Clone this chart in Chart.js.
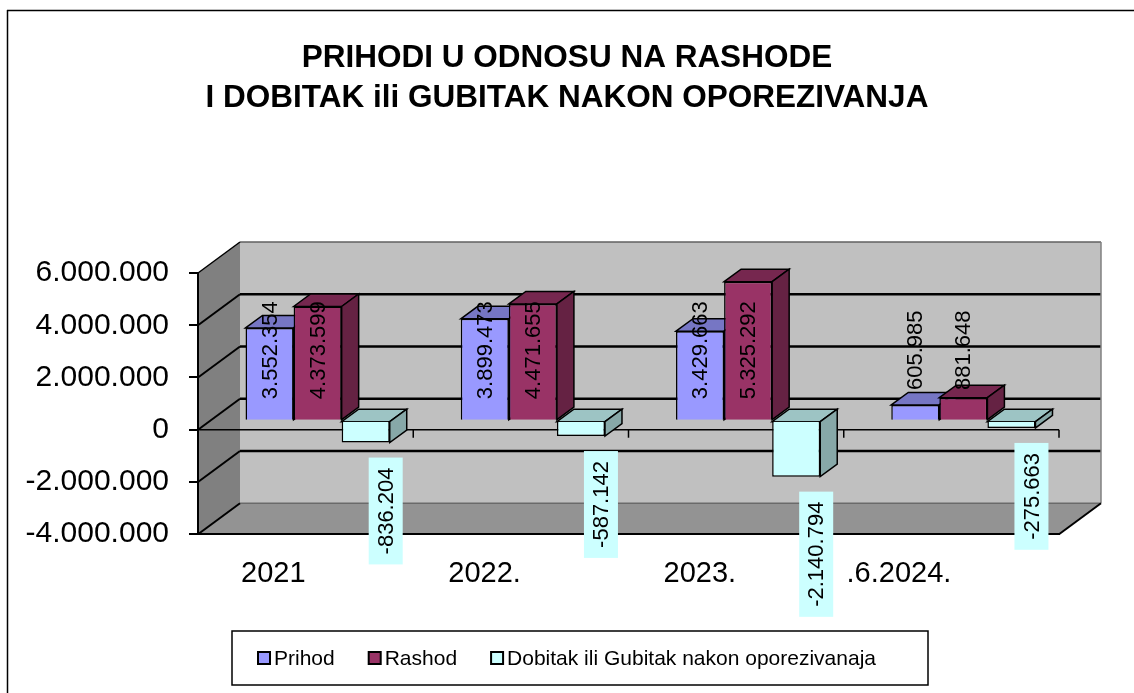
<!DOCTYPE html>
<html>
<head>
<meta charset="utf-8">
<script src="https://cdn.jsdelivr.net/npm/chart.js@4.4.1/dist/chart.umd.min.js"></script>
<style>
  html, body { margin: 0; padding: 0; background: #fff; }
  canvas { display: block; }
</style>
</head>
<body>
<canvas id="chart" width="1134" height="693"></canvas>
<script>
// podaci
const categories = ['2021', '2022.', '2023.', '.6.2024.'];
const prihod = [3552354, 3899473, 3429663, 605985];
const rashod = [4373599, 4471655, 5325292, 881648];
const dobitak = [-836204, -587142, -2140794, -275663];
const seriesNames = ['Prihod', 'Rashod', 'Dobitak ili Gubitak nakon oporezivanaja'];
const seriesColors = ['#9999ff', '#993366', '#ccffff'];
const titleLines = ['PRIHODI U ODNOSU NA RASHODE', 'I DOBITAK ili GUBITAK NAKON OPOREZIVANJA'];
const yMin = -4000000;
const yMax = 6000000;
const yStep = 2000000;

const FONT = "'Liberation Sans', Arial, sans-serif";

// 3D pomaci (zid iza, ravnina stupaca, dubina stupca)
const WALL = { dx: 42, dy: -31 };
const PLANE = { dx: 12, dy: -9 };
const DEPTH = { dx: 17, dy: -12.5 };

function fmt(v) {
  const s = String(Math.abs(Math.round(v))).replace(/\B(?=(\d{3})+(?!\d))/g, '.');
  return (v < 0 ? '-' : '') + s;
}

function shade(hex, f) {
  const n = parseInt(hex.slice(1), 16);
  const r = Math.round(((n >> 16) & 255) * f);
  const g = Math.round(((n >> 8) & 255) * f);
  const b = Math.round((n & 255) * f);
  return `rgb(${r},${g},${b})`;
}

function poly(ctx, pts, fill, stroke, lw) {
  ctx.beginPath();
  ctx.moveTo(pts[0][0], pts[0][1]);
  for (let i = 1; i < pts.length; i++) ctx.lineTo(pts[i][0], pts[i][1]);
  ctx.closePath();
  if (fill) { ctx.fillStyle = fill; ctx.fill(); }
  if (stroke) { ctx.strokeStyle = stroke; ctx.lineWidth = lw || 1; ctx.stroke(); }
}

function line(ctx, x1, y1, x2, y2, color, lw) {
  ctx.beginPath();
  ctx.moveTo(x1, y1);
  ctx.lineTo(x2, y2);
  ctx.strokeStyle = color;
  ctx.lineWidth = lw;
  ctx.stroke();
}

const scene3d = {
  id: 'scene3d',
  beforeDraw(chart) {
    const { ctx, chartArea: a, scales } = chart;
    const ys = scales.y;
    const L = a.left, R = a.right, T = a.top, B = a.bottom;
    ctx.save();
    // lijevi zid
    poly(ctx, [[L, T], [L + WALL.dx, T + WALL.dy], [L + WALL.dx, B + WALL.dy], [L, B]], '#808080');
    // stražnji zid
    ctx.fillStyle = '#c0c0c0';
    ctx.fillRect(L + WALL.dx, T + WALL.dy, R - L, B - T);
    // pod
    poly(ctx, [[L, B], [R, B], [R + WALL.dx, B + WALL.dy], [L + WALL.dx, B + WALL.dy]], '#939393');

    ys.ticks.forEach(t => {
      const y = ys.getPixelForValue(t.value);
      if (t.value === yMax) {
        line(ctx, L + WALL.dx, y + WALL.dy, R + WALL.dx, y + WALL.dy, '#606060', 1.5);
        line(ctx, L, y, L + WALL.dx, y + WALL.dy, '#000', 1.5);
      } else if (t.value === yMin) {
        line(ctx, L + WALL.dx, y + WALL.dy, R + WALL.dx, y + WALL.dy, '#6a6a6a', 1.5);
        line(ctx, L, y, L + WALL.dx, y + WALL.dy, '#000', 2);
      } else {
        line(ctx, L + WALL.dx, y + WALL.dy, R + WALL.dx, y + WALL.dy, '#000', 2.5);
        line(ctx, L, y, L + WALL.dx, y + WALL.dy, '#000', 2);
      }
    });
    line(ctx, R + WALL.dx, T + WALL.dy, R + WALL.dx, B + WALL.dy, '#808080', 1.5);
    line(ctx, R, B, R + WALL.dx, B + WALL.dy, '#000', 2);
    ctx.restore();
  },
  beforeDatasetsDraw(chart) {
    const { ctx, chartArea: a, scales } = chart;
    const xs = scales.x, ys = scales.y;
    // os kategorija na nuli
    const y0 = ys.getPixelForValue(0);
    ctx.save();
    line(ctx, a.left, y0, a.right, y0, '#000', 1.5);
    for (let i = 0; i < categories.length; i++) {
      const bx = i < categories.length - 1
        ? (xs.getPixelForValue(i) + xs.getPixelForValue(i + 1)) / 2
        : a.right;
      line(ctx, bx, y0, bx, y0 + 8, '#000', 1.5);
    }
    ctx.restore();

    ctx.save();
    ctx.translate(PLANE.dx, PLANE.dy);
    chart.data.datasets.forEach((ds, di) => {
      const meta = chart.getDatasetMeta(di);
      meta.data.forEach(bar => {
        const { x, y, base, width } = bar.getProps(['x', 'y', 'base', 'width'], true);
        const l = x - width / 2, r = x + width / 2;
        const top = Math.min(y, base), bot = Math.max(y, base);
        poly(ctx, [[l, top], [l + DEPTH.dx, top + DEPTH.dy], [r + DEPTH.dx, top + DEPTH.dy], [r, top]],
          shade(ds.backgroundColor, 0.77), '#000', 1.5);
        poly(ctx, [[r, top], [r + DEPTH.dx, top + DEPTH.dy], [r + DEPTH.dx, bot + DEPTH.dy], [r, bot]],
          shade(ds.backgroundColor, 0.66), '#000', 1.5);
      });
    });
  },
  afterDatasetsDraw(chart) {
    const { ctx, scales } = chart;
    const ys = scales.y;
    ctx.restore();

    ctx.save();
    ctx.font = '22px ' + FONT;
    ctx.fillStyle = '#000';
    ctx.textAlign = 'center';
    ctx.textBaseline = 'middle';
    chart.data.datasets.forEach((ds, di) => {
      const meta = chart.getDatasetMeta(di);
      meta.data.forEach((bar, i) => {
        const v = ds.data[i];
        const { x, y } = bar.getProps(['x', 'y'], true);
        const txt = fmt(v);
        if (v >= 0) {
          const cx = x + PLANE.dx;
          const cy = ys.getPixelForValue(2700000) + PLANE.dy;
          ctx.save();
          ctx.translate(cx, cy);
          ctx.rotate(-Math.PI / 2);
          ctx.fillStyle = '#000';
          ctx.fillText(txt, 0, 1);
          ctx.restore();
        } else {
          const tw = ctx.measureText(txt).width;
          const bh = tw + 20, bw = 34;
          const cx = x + PLANE.dx + 20;
          const topY = y + PLANE.dy + 15;
          ctx.fillStyle = '#ccffff';
          ctx.fillRect(cx - bw / 2, topY, bw, bh);
          ctx.save();
          ctx.translate(cx, topY + bh / 2);
          ctx.rotate(-Math.PI / 2);
          ctx.fillStyle = '#000';
          ctx.fillText(txt, 0, 1);
          ctx.restore();
        }
      });
    });
    ctx.restore();
  },
  afterDraw(chart) {
    const { ctx } = chart;
    ctx.save();
    // okvir
    line(ctx, 7, 10.5, chart.width, 10.5, '#000', 1.5);
    line(ctx, 7.5, 10, 7.5, chart.height, '#000', 1.5);

    // legenda
    ctx.strokeStyle = '#000';
    ctx.lineWidth = 1.5;
    ctx.strokeRect(232, 631, 696, 54);
    ctx.font = '21px ' + FONT;
    ctx.textBaseline = 'middle';
    ctx.textAlign = 'left';
    let lx = 258;
    const ly = 658;
    seriesNames.forEach((name, i) => {
      ctx.fillStyle = seriesColors[i];
      ctx.fillRect(lx, ly - 6, 12, 12);
      ctx.lineWidth = 2;
      ctx.strokeRect(lx, ly - 6, 12, 12);
      ctx.fillStyle = '#000';
      ctx.fillText(name, lx + 16, ly + 1);
      lx += 16 + ctx.measureText(name).width + 34;
    });
    ctx.restore();
  }
};

new Chart(document.getElementById('chart'), {
  type: 'bar',
  data: {
    labels: categories,
    datasets: [
      { label: seriesNames[0], data: prihod, backgroundColor: seriesColors[0] },
      { label: seriesNames[1], data: rashod, backgroundColor: seriesColors[1] },
      { label: seriesNames[2], data: dobitak, backgroundColor: seriesColors[2] }
    ].map(d => Object.assign(d, {
      borderColor: '#000',
      borderWidth: 1.5,
      barPercentage: 1,
      categoryPercentage: 0.67,
      clip: false
    }))
  },
  options: {
    responsive: false,
    animation: false,
    devicePixelRatio: 1,
    layout: { padding: { left: 0, right: 0, top: 0, bottom: 80 } },
    plugins: {
      legend: { display: false },
      tooltip: { enabled: false },
      title: {
        display: true,
        text: titleLines,
        color: '#000',
        font: { family: FONT, size: 31.5, weight: 'bold', lineHeight: 1.27 },
        padding: { top: 38, bottom: 155 }
      }
    },
    scales: {
      x: {
        grid: { display: true, drawOnChartArea: false, drawTicks: false },
        border: { display: true, color: '#000', width: 2 },
        ticks: {
          color: '#000',
          align: 'end',
          padding: 22,
          maxRotation: 0,
          font: { family: FONT, size: 29 }
        }
      },
      y: {
        min: yMin,
        max: yMax,
        afterFit(scale) { scale.width = 198; },
        grid: { drawOnChartArea: false, drawTicks: true, tickLength: 9, color: '#000', lineWidth: 2 },
        border: { display: true, color: '#000', width: 2 },
        ticks: {
          stepSize: yStep,
          color: '#000',
          padding: 20,
          font: { family: FONT, size: 30 },
          callback: v => fmt(v)
        }
      },
      // prazna desna os, samo rezervira mjesto za 3D zid
      yRight: {
        position: 'right',
        display: true,
        afterFit(scale) { scale.width = 75; },
        grid: { display: false },
        border: { display: false },
        ticks: { display: false }
      }
    }
  },
  plugins: [scene3d]
});
</script>
</body>
</html>
